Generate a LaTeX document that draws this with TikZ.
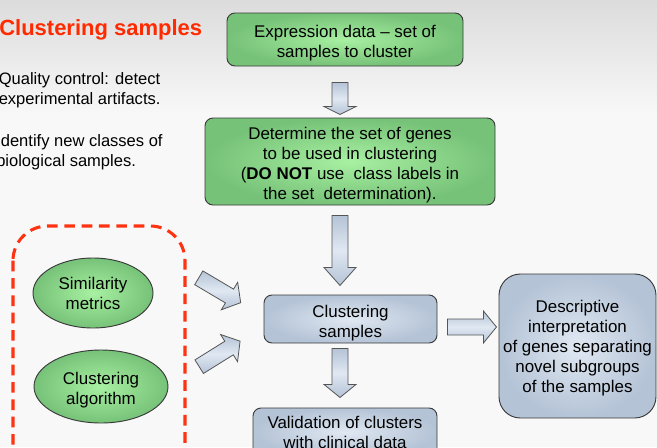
\documentclass[tikz,border=0pt]{standalone}
\usepackage{fontspec}
\setmainfont{Liberation Sans}
\usetikzlibrary{calc,shapes.geometric}
\definecolor{titlered}{HTML}{FF2A00}
\definecolor{dashred}{HTML}{FF3311}
\definecolor{greenin}{HTML}{A8F0A2}
\definecolor{greenout}{HTML}{76C278}
\definecolor{bluein}{HTML}{E0E8F2}
\definecolor{blueout}{HTML}{B4C3D6}
\definecolor{edgegray}{HTML}{3A3A3A}
\definecolor{arrowedge}{HTML}{555555}
\definecolor{bgtop}{HTML}{DCDCDC}
\definecolor{bgbot}{HTML}{F8F8F8}
\newcommand\boxfont{\fontsize{12.7pt}{15pt}\selectfont}
\newcommand\bulletfont{\fontsize{12.4pt}{15pt}\selectfont}
% raise the top of the first line to push a text block down inside its box
\newcommand\tsh[1]{\rule{0pt}{\dimexpr 9.3pt+#1pt\relax}}
\tikzset{
  greenbox/.style={draw=edgegray, line width=0.7pt, rounded corners=6pt,
    inner color=greenin, outer color=greenout, align=center, inner sep=0pt, font=\boxfont},
  bluebox/.style={draw=edgegray, line width=0.7pt, rounded corners=6pt,
    inner color=bluein, outer color=blueout, align=center, inner sep=0pt, font=\boxfont},
  greenell/.style={ellipse, draw=edgegray, line width=0.7pt,
    inner color=greenin, outer color=greenout, align=center, inner sep=0pt, font=\boxfont},
  blockarrowsty/.style={draw=arrowedge, line width=0.6pt, line join=miter,
    top color=blueout, bottom color=blueout, middle color=bluein},
  pics/blockarrow/.style 2 args={code={
    \draw[blockarrowsty] (0,-8) -- ({#1-#2},-8) -- ({#1-#2},-16) -- (#1,0)
      -- ({#1-#2},16) -- ({#1-#2},8) -- (0,8) -- cycle;}}
}
\begin{document}
\begin{tikzpicture}[x=0.75pt,y=-0.75pt]
\useasboundingbox (0,0) rectangle (657,447);
\clip (0,0) rectangle (657,447);
% background
\fill[bgbot] (0,0) rectangle (657,447);
\shade[top color=bgtop, bottom color=bgbot] (0,0) rectangle (657,115);

% title and bullet text
\node[anchor=west, text=titlered, font=\fontsize{16.5pt}{19pt}\selectfont\bfseries, inner sep=0pt] (title) at (-1,30) {Clustering samples};
\node[anchor=west, align=left, font=\bulletfont, inner sep=0pt] (qc) at (-1.5,90.5) {Quality control: detect\\experimental artifacts.};
\node[anchor=west, align=left, font=\bulletfont, inner sep=0pt] (idn) at (-4,152) {Identify new classes of\\biological samples.};

% flow boxes
\node[greenbox, minimum width=177pt, minimum height=39.75pt] (expr) at (345,39.5)
  {\tsh{5}Expression data -- set of\\samples to cluster};
\node[greenbox, minimum width=217.5pt, minimum height=65.25pt] (genes) at (350,161.5)
  {\tsh{6}Determine the set of genes\\to be used in clustering\\(\textbf{DO NOT} use\ \ class labels in\\the set\ \ determination).};
\node[bluebox, minimum width=129.75pt, minimum height=36pt] (clust) at (350.5,319)
  {\tsh{6}Clustering\\samples};
\node[bluebox, minimum width=138pt, minimum height=36pt] (valid) at (345,432)
  {Validation of clusters\\with clinical data};
\node[bluebox, rounded corners=16pt, minimum width=117.75pt, minimum height=108pt] (descr) at (577.5,346)
  {\tsh{3.5}Descriptive\\interpretation\\of genes separating\\novel subgroups\\of the samples};

% dashed group with ellipses
\draw[dashred, line width=2.3pt, dash pattern=on 8pt off 5pt, rounded corners=26pt]
  (13,226) rectangle (185,480);
\node[greenell, minimum width=90pt, minimum height=52.5pt] (sim) at (93,293) {Similarity\\metrics};
\node[greenell, minimum width=100.5pt, minimum height=54.75pt] (alg) at (101,386.5) {\tsh{6}Clustering\\algorithm};

% block arrows
\coordinate (a1) at ($(expr.south)+(-5,16)$);
\coordinate (a2) at ($(genes.south)+(-10,10)$);
\coordinate (a3) at ($(clust.south)+(-10.5,5)$);
\coordinate (a4) at ($(clust.east)+(10,8)$);
\coordinate (a5) at (198.8,277.8);
\coordinate (a6) at (199.2,366.7);
\pic[rotate=-90] at (a1) {blockarrow={32}{8}};
\pic[rotate=-90] at (a2) {blockarrow={70}{18}};
\pic[rotate=-90] at (a3) {blockarrow={49}{13}};
\pic at (a4) {blockarrow={49}{13}};
\pic[rotate=-30.7] at (a5) {blockarrow={48.7}{13}};
\pic[rotate=32] at (a6) {blockarrow={48.2}{13}};
\end{tikzpicture}
\end{document}
